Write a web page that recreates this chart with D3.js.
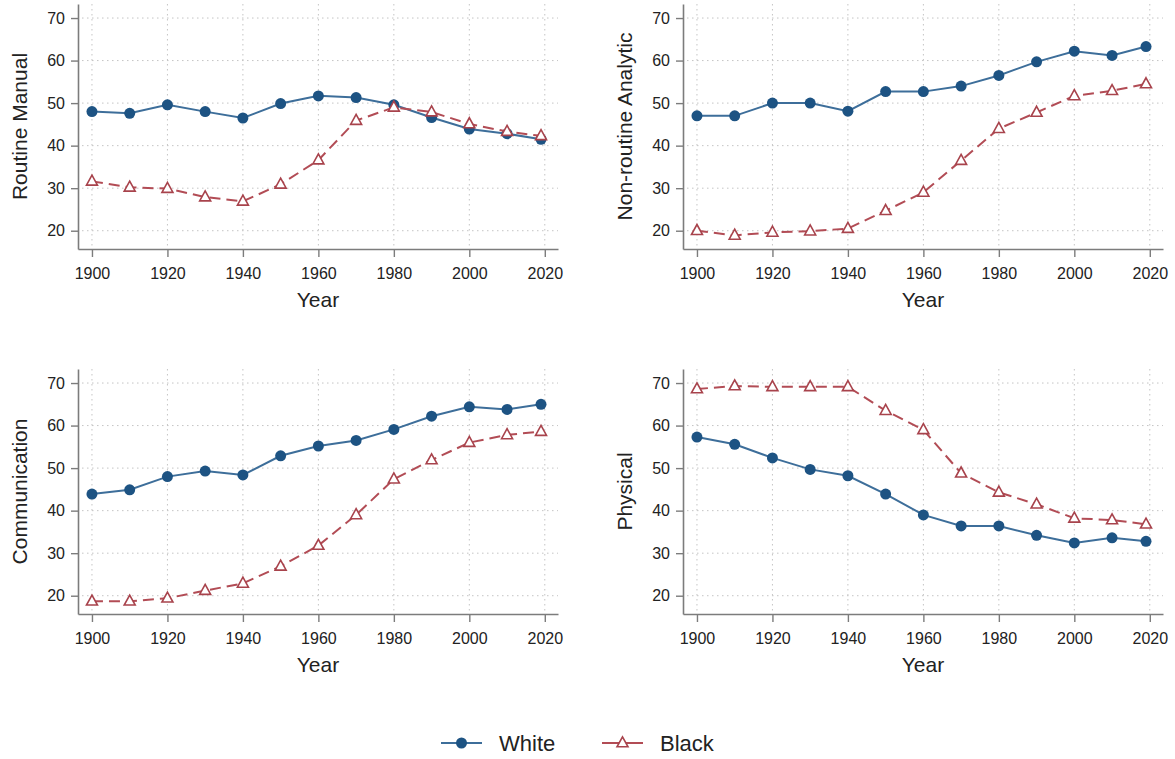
<!doctype html>
<html lang="en">
    <head>
        <meta charset="utf-8">
        <title>Task content by race</title>
        <script src="https://d3js.org/d3.v7.min.js"></script>
        <style>
         body { margin: 0; background: #fff; }
         text { font-family: Arial, 'Liberation Sans', sans-serif; fill: #222; }
        </style>
    </head>
    <body>
        <div id="main"></div>
    </body>

    <script type="text/javascript">
     // values
     const years = [1900, 1910, 1920, 1930, 1940, 1950, 1960, 1970, 1980, 1990, 2000, 2010, 2019]
     const xTicks = [1900, 1920, 1940, 1960, 1980, 2000, 2020]
     const yTicks = [20, 30, 40, 50, 60, 70]
     const seriesNames = ['White', 'Black']
     const panelTitles = ['Routine Manual', 'Non-routine Analytic', 'Communication', 'Physical']

     const routineWhite = [48.0, 47.6, 49.6, 48.0, 46.5, 49.9, 51.7, 51.3, 49.6, 46.6, 43.9, 42.8, 41.5]
     const routineBlack = [31.6, 30.2, 29.9, 27.9, 26.9, 30.9, 36.6, 45.9, 49.0, 47.9, 45.1, 43.3, 42.3]
     const analyticWhite = [47.0, 47.0, 50.0, 50.0, 48.1, 52.7, 52.7, 54.0, 56.5, 59.7, 62.2, 61.2, 63.3]
     const analyticBlack = [20.0, 18.9, 19.6, 19.9, 20.5, 24.7, 29.0, 36.5, 44.0, 47.8, 51.7, 52.9, 54.5]
     const commWhite = [43.9, 44.9, 48.0, 49.3, 48.4, 52.9, 55.2, 56.5, 59.1, 62.2, 64.4, 63.8, 65.0]
     const commBlack = [18.7, 18.7, 19.4, 21.2, 22.9, 26.9, 31.8, 39.0, 47.4, 51.9, 56.0, 57.8, 58.6]
     const physWhite = [57.3, 55.6, 52.4, 49.7, 48.2, 43.9, 39.0, 36.4, 36.4, 34.2, 32.4, 33.6, 32.8]
     const physBlack = [68.6, 69.3, 69.1, 69.1, 69.1, 63.5, 59.0, 48.8, 44.3, 41.5, 38.2, 37.8, 36.8]

     const panelWhite = [routineWhite, analyticWhite, commWhite, physWhite]
     const panelBlack = [routineBlack, analyticBlack, commBlack, physBlack]

     const W = 1175, H = 759
     const plotW = 480, plotH = 245
     const panelPos = [[78, 4], [683, 4], [78, 369], [683, 369]]

     const whiteLine = '#3d6e9a', whiteMark = '#1d5383'
     const blackLine = '#b24c55', blackMark = '#a8434c'

     const svg = d3.select('#main').append('svg')
                   .attr('width', W).attr('height', H)

     svg.append('rect').attr('width', W).attr('height', H).attr('fill', '#fff')

     const x = d3.scaleLinear().domain([1896.3, 2023.5]).range([0, plotW])
     const y = d3.scaleLinear().domain([15.7, 73.3]).range([plotH, 0])

     const line = d3.line().x(d => x(d.year)).y(d => y(d.value))

     const triangle = s => `M0,${-s * 0.62} L${s * 0.55},${s * 0.38} L${-s * 0.55},${s * 0.38} Z`

     panelTitles.forEach((title, i) => {
         const g = svg.append('g')
                      .attr('transform', `translate(${panelPos[i]})`)

         // dotted grid
         g.selectAll('.hgrid').data(yTicks).enter().append('line')
          .attr('x1', 4).attr('x2', plotW)
          .attr('y1', d => y(d)).attr('y2', d => y(d))
          .attr('stroke', '#c4c4c4').attr('stroke-width', 1)
          .attr('stroke-dasharray', '1.5,3.5')
         g.selectAll('.vgrid').data(xTicks).enter().append('line')
          .attr('x1', d => x(d)).attr('x2', d => x(d))
          .attr('y1', 0).attr('y2', plotH - 3)
          .attr('stroke', '#c4c4c4').attr('stroke-width', 1)
          .attr('stroke-dasharray', '1.5,3.5')

         const yAxis = g.append('g')
                        .call(d3.axisLeft(y).tickValues(yTicks).tickSize(7).tickSizeOuter(0).tickPadding(6))
         const xAxis = g.append('g')
                        .attr('transform', `translate(0,${plotH})`)
                        .call(d3.axisBottom(x).tickValues(xTicks).tickFormat(d3.format('d'))
                                              .tickSize(8).tickSizeOuter(0).tickPadding(11))

         ;[yAxis, xAxis].forEach(a => {
             a.select('.domain').attr('stroke', '#7c7c7c').attr('stroke-width', 1.6)
             a.selectAll('.tick line').attr('stroke', '#7c7c7c').attr('stroke-width', 1.4)
             a.selectAll('.tick text').style('font-size', '16px')
              .style('font-family', "Arial, 'Liberation Sans', sans-serif").attr('fill', '#222')
         })

         g.append('text')
          .attr('transform', `translate(-51,${plotH / 2}) rotate(-90)`)
          .attr('text-anchor', 'middle')
          .style('font-size', '21px')
          .text(title)

         g.append('text')
          .attr('x', plotW / 2).attr('y', plotH + 58)
          .attr('text-anchor', 'middle')
          .style('font-size', '21px')
          .text('Year')

         const wData = years.map((yr, k) => ({year: yr, value: panelWhite[i][k]}))
         const bData = years.map((yr, k) => ({year: yr, value: panelBlack[i][k]}))

         g.append('path').datum(wData)
          .attr('d', line).attr('fill', 'none')
          .attr('stroke', whiteLine).attr('stroke-width', 2)
         g.selectAll('.wpt').data(wData).enter().append('circle')
          .attr('cx', d => x(d.year)).attr('cy', d => y(d.value)).attr('r', 5.5)
          .attr('fill', whiteMark)

         g.append('path').datum(bData)
          .attr('d', line).attr('fill', 'none')
          .attr('stroke', blackLine).attr('stroke-width', 2)
          .attr('stroke-dasharray', '11,6')
         g.selectAll('.bpt').data(bData).enter().append('path')
          .attr('d', triangle(10))
          .attr('transform', d => `translate(${x(d.year)},${y(d.value)})`)
          .attr('fill', '#fff').attr('stroke', blackMark).attr('stroke-width', 1.6)
     })

     // legend
     const legend = svg.append('g').attr('transform', 'translate(0,743)')
     const legendX = [441, 602]
     seriesNames.forEach((name, i) => {
         const lg = legend.append('g').attr('transform', `translate(${legendX[i]},0)`)
         lg.append('line').attr('x1', 0).attr('x2', 41)
           .attr('stroke', i === 0 ? whiteLine : blackLine).attr('stroke-width', 2)
         if (i === 0) {
             lg.append('circle').attr('cx', 20.5).attr('r', 5.5).attr('fill', whiteMark)
         } else {
             lg.append('path').attr('d', triangle(10))
               .attr('transform', 'translate(20.5,0)')
               .attr('fill', '#fff').attr('stroke', blackMark).attr('stroke-width', 1.6)
         }
         lg.append('text').attr('x', 58).attr('y', 8)
           .style('font-size', '22px')
           .text(name)
     })
    </script>
</html>
